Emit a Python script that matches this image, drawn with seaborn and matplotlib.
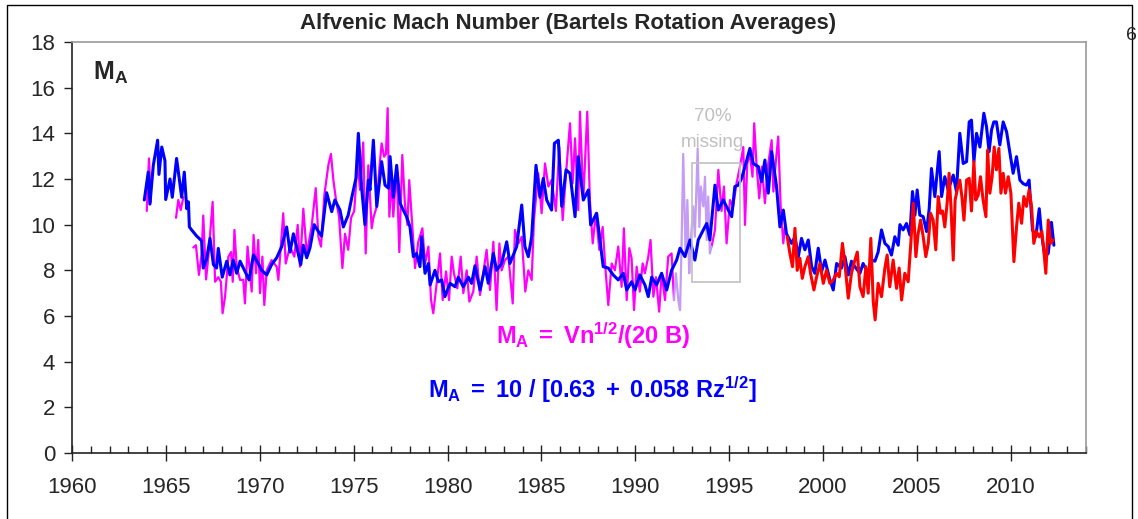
import numpy as np
import pandas as pd
import matplotlib
matplotlib.use("Agg")
import matplotlib.pyplot as plt
from matplotlib.patches import Rectangle
from matplotlib.ticker import MultipleLocator
import seaborn as sns

# ---------------- data ----------------
blue_years = [1963.85, 1964.06, 1964.15, 1964.33, 1964.56, 1964.63, 1964.78, 1964.95, 1964.99, 1965.22,
              1965.34, 1965.57, 1965.84, 1965.98, 1966.11, 1966.2, 1966.25, 1966.37, 1966.64, 1966.9,
              1966.99, 1967.17, 1967.35, 1967.53, 1967.7, 1967.79, 1968.0, 1968.24, 1968.41, 1968.59,
              1968.77, 1968.95, 1969.21, 1969.43, 1969.66, 1969.92, 1970.1, 1970.37, 1970.63, 1970.9,
              1971.17, 1971.43, 1971.61, 1971.79, 1971.96, 1972.18, 1972.32, 1972.5, 1972.67, 1972.9,
              1973.12, 1973.29, 1973.56, 1973.83, 1974.0, 1974.27, 1974.45, 1974.71, 1974.89, 1975.12,
              1975.25, 1975.42, 1975.6, 1975.78, 1975.87, 1976.05, 1976.23, 1976.49, 1976.67, 1976.85,
              1976.94, 1977.11, 1977.29, 1977.47, 1977.64, 1977.82, 1978.0, 1978.18, 1978.35, 1978.53,
              1978.62, 1978.8, 1978.98, 1979.07, 1979.33, 1979.51, 1979.69, 1979.86, 1980.13, 1980.4,
              1980.57, 1980.84, 1981.11, 1981.28, 1981.46, 1981.73, 1982.0, 1982.17, 1982.44, 1982.61,
              1982.88, 1983.15, 1983.32, 1983.68, 1983.95, 1984.12, 1984.3, 1984.48, 1984.6, 1984.71,
              1984.92, 1985.1, 1985.28, 1985.54, 1985.69, 1985.9, 1986.08, 1986.31, 1986.52, 1986.79,
              1986.96, 1987.23, 1987.5, 1987.62, 1987.94, 1988.12, 1988.29, 1988.56, 1988.82, 1989.09,
              1989.36, 1989.54, 1989.8, 1989.98, 1990.24, 1990.51, 1990.69, 1990.87, 1991.13, 1991.4,
              1991.67, 1991.93, 1992.2, 1992.38, 1992.64, 1992.91, 1993.17, 1993.35, 1993.62, 1993.8,
              1993.97, 1994.24, 1994.42, 1994.68, 1994.95, 1995.13, 1995.3, 1995.48, 1995.66, 1995.84,
              1996.1, 1996.28, 1996.55, 1996.72, 1996.9, 1997.08, 1997.26, 1997.52, 1997.7, 1997.88,
              1998.05, 1998.32, 1998.5, 1998.68, 1998.85, 1999.03, 1999.21, 1999.39, 1999.56, 1999.74,
              1999.92, 2000.1, 2000.36, 2000.54, 2000.72, 2000.98, 2001.16, 2001.34, 2001.51, 2001.69,
              2001.96, 2002.13, 2002.4, 2002.58, 2002.76, 2002.93, 2003.11, 2003.29, 2003.47, 2003.64,
              2003.82, 2004.0, 2004.09, 2004.26, 2004.44, 2004.62, 2004.76, 2004.89, 2005.01, 2005.15,
              2005.33, 2005.51, 2005.65, 2005.77, 2005.95, 2006.18, 2006.31, 2006.48, 2006.66, 2006.93,
              2007.1, 2007.28, 2007.46, 2007.64, 2007.78, 2007.9, 2008.03, 2008.17, 2008.35, 2008.56,
              2008.7, 2008.84, 2008.97, 2009.09, 2009.23, 2009.41, 2009.59, 2009.77, 2009.94, 2010.12,
              2010.3, 2010.48, 2010.65, 2010.83, 2010.97, 2011.15, 2011.33, 2011.51, 2011.63, 2011.81,
              2011.99, 2012.16, 2012.29]
blue_vals = [11.08, 12.3, 10.9, 12.6, 13.7, 12.2, 13.4, 12.8, 11.1, 12.0,
             11.2, 12.9, 11.2, 12.3, 10.7, 11.0, 9.9, 9.77, 9.5, 9.3,
             8.1, 8.5, 9.4, 8.25, 8.1, 8.96, 7.7, 8.4, 7.8, 8.45,
             7.87, 8.4, 7.95, 7.58, 8.67, 8.3, 8.0, 7.8, 8.25, 8.55,
             9.04, 9.9, 8.8, 9.6, 9.04, 8.25, 9.1, 8.55, 8.97, 10.0,
             9.7, 9.5, 11.4, 10.57, 11.08, 10.64, 9.9, 10.42, 11.15, 12.03,
             14.0, 11.67, 10.0, 11.95, 11.52, 13.7, 10.8, 12.76, 11.73, 11.6,
             12.98, 11.2, 12.6, 10.94, 10.64, 10.35, 9.9, 8.6, 8.74, 8.16,
             9.47, 7.87, 8.3, 7.36, 8.0, 7.5, 7.58, 6.85, 7.43, 7.28,
             7.7, 7.28, 7.7, 7.43, 8.2, 7.14, 8.16, 7.43, 8.74, 8.0,
             8.3, 9.25, 8.3, 9.04, 10.86, 9.04, 8.6, 9.47, 11.08, 12.6,
             11.2, 12.03, 11.08, 10.64, 13.56, 13.7, 10.8, 12.4, 12.25, 10.35,
             12.98, 11.08, 11.52, 9.99, 10.5, 9.3, 8.16, 8.1, 7.8, 7.58,
             7.87, 7.14, 7.5, 7.14, 7.8, 7.36, 6.85, 7.7, 7.36, 7.87,
             7.14, 8.0, 8.45, 8.97, 8.6, 9.33, 8.45, 9.33, 9.77, 10.05,
             9.33, 11.73, 10.64, 11.08, 10.64, 10.35, 11.67, 11.73, 12.03, 12.54,
             13.34, 12.68, 12.54, 11.88, 12.83, 11.38, 13.2, 11.67, 9.9, 10.64,
             9.6, 9.18, 9.47, 8.6, 9.4, 8.9, 9.33, 8.16, 7.87, 8.97,
             7.95, 8.45, 7.58, 7.14, 8.3, 8.1, 8.6, 7.8, 8.4, 8.16,
             7.87, 8.3, 7.87, 8.45, 8.4, 8.8, 9.77, 9.18, 9.04, 8.67,
             9.47, 9.1, 10.0, 9.77, 10.05, 9.55, 11.45, 10.42, 11.52, 10.42,
             10.35, 9.7, 10.7, 12.46, 11.23, 13.2, 11.23, 12.1, 11.52, 12.17,
             11.45, 14.0, 12.68, 12.76, 14.5, 14.58, 12.76, 14.0, 13.4, 14.88,
             14.3, 13.2, 14.15, 14.5, 14.5, 13.49, 14.5, 14.07, 13.2, 12.25,
             12.98, 11.95, 11.8, 11.73, 11.95, 9.77, 9.47, 10.7, 9.6, 8.6,
             8.74, 10.1, 9.1]

# magenta (Vn^1/2 / 20B) -- data segments separated by gaps
mag_seg1_years = [1963.98, 1964.1, 1964.2]
mag_seg1_vals = [10.6, 12.9, 11.0]
mag_seg2_years = [1965.54, 1965.66, 1965.79, 1965.93]
mag_seg2_vals = [10.3, 11.08, 10.64, 11.2]
mag_seg3_years = [1966.46, 1966.6, 1966.76, 1966.9, 1966.99, 1967.14, 1967.26, 1967.49, 1967.62, 1967.79,
                  1967.93, 1968.02, 1968.15, 1968.33, 1968.47, 1968.56, 1968.65, 1968.77, 1968.95, 1969.12,
                  1969.21, 1969.35, 1969.57, 1969.67, 1969.8, 1969.92, 1970.01, 1970.14, 1970.24, 1970.37,
                  1970.63, 1970.9, 1970.99, 1971.25, 1971.38, 1971.61, 1971.84, 1972.02, 1972.14, 1972.32,
                  1972.5, 1972.76, 1972.98, 1973.12, 1973.26, 1973.44, 1973.65, 1973.79, 1973.92, 1974.06,
                  1974.22, 1974.4, 1974.54, 1974.71, 1974.86, 1975.03, 1975.21, 1975.34, 1975.51, 1975.64,
                  1975.78, 1975.96, 1976.05, 1976.23, 1976.37, 1976.49, 1976.62, 1976.72, 1976.81, 1976.9,
                  1977.02, 1977.11, 1977.29, 1977.43, 1977.59, 1977.73, 1977.86, 1977.96, 1978.09, 1978.27,
                  1978.44, 1978.66, 1978.8, 1978.98, 1979.12, 1979.24, 1979.37, 1979.6, 1979.74, 1979.92,
                  1980.08, 1980.22, 1980.34, 1980.52, 1980.7, 1980.84, 1981.02, 1981.16, 1981.37, 1981.55,
                  1981.73, 1981.9, 1982.08, 1982.26, 1982.44, 1982.61, 1982.76, 1982.88, 1983.06, 1983.24,
                  1983.47, 1983.59, 1983.77, 1983.95, 1984.14, 1984.3, 1984.48, 1984.6, 1984.83, 1985.01,
                  1985.19, 1985.37, 1985.54, 1985.77, 1985.95, 1986.13, 1986.31, 1986.52, 1986.66, 1986.79,
                  1986.96, 1987.05, 1987.23, 1987.44, 1987.58, 1987.73, 1987.9, 1988.08, 1988.26, 1988.4,
                  1988.56, 1988.74, 1988.91, 1989.09, 1989.27, 1989.39, 1989.54, 1989.68, 1989.8, 1989.93,
                  1990.07, 1990.24, 1990.39, 1990.51, 1990.69, 1990.81, 1990.96, 1991.1, 1991.27, 1991.4,
                  1991.58, 1991.75, 1991.93, 1992.06]
mag_seg3_vals = [9.0, 9.1, 7.8, 8.7, 10.4, 7.6, 8.6, 11.0, 7.5, 7.7,
                 7.5, 6.12, 6.85, 8.6, 8.8, 7.5, 9.77, 8.16, 7.58, 7.58,
                 6.55, 9.04, 7.07, 9.55, 7.87, 9.33, 7.0, 8.6, 6.48, 8.0,
                 8.45, 8.16, 7.58, 10.5, 8.3, 9.04, 8.6, 9.99, 8.16, 10.7,
                 8.74, 9.9, 11.6, 9.47, 9.04, 11.3, 12.6, 13.1, 11.95, 11.08,
                 10.35, 8.1, 9.6, 8.9, 10.3, 10.6, 12.8, 11.52, 13.6, 8.74,
                 12.6, 9.84, 10.3, 10.8, 12.5, 13.56, 12.98, 13.1, 15.1, 10.35,
                 12.1, 10.35, 12.5, 8.8, 13.05, 10.9, 9.99, 11.95, 10.35, 8.1,
                 9.25, 9.84, 8.3, 9.04, 6.7, 6.12, 7.07, 8.74, 6.7, 7.95,
                 6.7, 8.6, 7.87, 7.21, 8.6, 7.0, 8.0, 6.63, 7.07, 8.6,
                 6.92, 7.87, 8.9, 7.14, 9.25, 6.26, 9.18, 8.0, 8.45, 8.6,
                 6.55, 9.77, 9.18, 9.47, 7.07, 8.0, 7.58, 10.2, 12.25, 10.5,
                 12.68, 11.67, 11.95, 10.6, 13.4, 10.2, 12.25, 14.44, 11.81, 13.78,
                 10.64, 14.95, 11.08, 14.95, 11.08, 9.18, 10.5, 8.9, 9.9, 8.16,
                 6.48, 8.3, 8.0, 9.04, 7.28, 9.84, 6.7, 8.97, 8.53, 6.26,
                 8.16, 7.07, 8.3, 7.87, 8.6, 9.33, 6.85, 7.7, 6.19, 7.87,
                 6.7, 8.6, 8.74, 6.7]
mag_seg4_years = [1994.06, 1994.24, 1994.42, 1994.59, 1994.72, 1994.86, 1995.04, 1995.21, 1995.39, 1995.57,
                  1995.75, 1995.84, 1995.96, 1996.1, 1996.24, 1996.33, 1996.46, 1996.6, 1996.74, 1996.9,
                  1997.08, 1997.26, 1997.35, 1997.49, 1997.61, 1997.74, 1997.88, 1997.97]
mag_seg4_vals = [9.04, 9.77, 12.4, 10.6, 11.67, 9.18, 11.08, 10.8, 11.81, 12.54,
                 13.4, 9.99, 12.68, 13.1, 12.1, 14.44, 12.54, 11.15, 12.54, 10.94,
                 12.68, 13.7, 11.45, 12.83, 13.86, 10.8, 9.18, 9.9]

# light purple: period with 70% missing data
lav_years = [1992.06, 1992.16, 1992.29, 1992.38, 1992.46, 1992.55, 1992.68, 1992.77, 1992.87, 1992.94,
             1993.08, 1993.17, 1993.32, 1993.41, 1993.49, 1993.62, 1993.71, 1993.8, 1993.88, 1993.97,
             1994.06]
lav_vals = [6.7, 7.87, 6.7, 6.26, 9.04, 13.1, 8.6, 11.08, 7.87, 9.18,
            10.8, 9.47, 13.34, 9.9, 11.67, 10.8, 12.1, 9.33, 11.23, 8.74,
            9.04]

# red (recent Vn^1/2 / 20B)
red_years = [1998.09, 1998.23, 1998.37, 1998.5, 1998.62, 1998.76, 1998.89, 1999.03, 1999.21, 1999.33,
             1999.51, 1999.65, 1999.83, 2000.01, 2000.18, 2000.36, 2000.54, 2000.72, 2000.86, 2001.03,
             2001.16, 2001.34, 2001.51, 2001.64, 2001.82, 2001.96, 2002.13, 2002.28, 2002.4, 2002.54,
             2002.67, 2002.77, 2002.93, 2003.11, 2003.29, 2003.41, 2003.55, 2003.73, 2003.91, 2004.05,
             2004.18, 2004.35, 2004.53, 2004.67, 2004.8, 2004.94, 2005.06, 2005.19, 2005.33, 2005.47,
             2005.6, 2005.72, 2005.86, 2006.0, 2006.13, 2006.25, 2006.36, 2006.48, 2006.61, 2006.71,
             2006.82, 2006.93, 2007.03, 2007.16, 2007.28, 2007.39, 2007.5, 2007.64, 2007.78, 2007.9,
             2008.03, 2008.13, 2008.26, 2008.38, 2008.52, 2008.67, 2008.76, 2008.88, 2009.0, 2009.11,
             2009.23, 2009.36, 2009.47, 2009.59, 2009.71, 2009.86, 2010.0, 2010.16, 2010.3, 2010.42,
             2010.57, 2010.69, 2010.83, 2010.97, 2011.1, 2011.22, 2011.36, 2011.51, 2011.65, 2011.75,
             2011.86, 2011.99, 2012.11, 2012.25]
red_vals = [9.47, 8.74, 8.16, 9.84, 8.0, 8.53, 7.65, 8.16, 8.6, 7.87,
            7.14, 7.7, 8.3, 7.43, 8.0, 7.43, 7.58, 7.87, 7.72, 9.18,
            8.3, 6.78, 7.87, 8.3, 8.8, 7.28, 6.85, 8.16, 7.0, 9.4,
            6.63, 5.83, 7.43, 6.85, 8.1, 8.67, 7.28, 8.45, 7.21, 8.1,
            6.7, 7.87, 7.5, 9.18, 10.94, 8.6, 9.6, 10.2, 9.47, 8.6,
            9.18, 10.5, 10.2, 8.9, 11.23, 10.5, 10.6, 9.9, 11.0, 12.25,
            10.6, 8.45, 11.08, 11.6, 11.95, 11.23, 10.2, 11.95, 12.03, 10.6,
            12.76, 11.08, 11.3, 12.1, 11.08, 10.35, 13.27, 11.38, 12.1, 13.4,
            12.4, 13.34, 11.38, 12.25, 11.38, 12.1, 11.38, 8.38, 9.9, 10.94,
            10.06, 11.23, 10.8, 11.52, 10.8, 9.18, 9.7, 9.47, 9.7, 8.9,
            7.87, 10.2, 9.18, 9.33]

x_ticks = [1960, 1965, 1970, 1975, 1980, 1985, 1990, 1995, 2000, 2005, 2010]
y_ticks = [0, 2, 4, 6, 8, 10, 12, 14, 16, 18]

title = "Alfvenic Mach Number (Bartels Rotation Averages)"
formula_mag = r"$\mathbf{M_A\ =\ Vn^{1/2}/(20\ B)}$"
formula_blue = r"$\mathbf{M_A\ =\ 10\ /\ [0.63\ +\ 0.058\ Rz^{1/2}]}$"

# ---------------- build frames ----------------
mag_df = pd.concat([
    pd.DataFrame({"year": y, "ma": v, "seg": i})
    for i, (y, v) in enumerate([(mag_seg1_years, mag_seg1_vals), (mag_seg2_years, mag_seg2_vals),
                                (mag_seg3_years, mag_seg3_vals), (mag_seg4_years, mag_seg4_vals)])
], ignore_index=True)
blue_df = pd.DataFrame({"year": blue_years, "ma": blue_vals})
lav_df = pd.DataFrame({"year": lav_years, "ma": lav_vals})
red_df = pd.DataFrame({"year": red_years, "ma": red_vals})

# ---------------- style ----------------
sns.set_style("white")
plt.rcParams["font.family"] = ["Liberation Sans", "DejaVu Sans"]
plt.rcParams["mathtext.fontset"] = "custom"
plt.rcParams["mathtext.rm"] = "Liberation Sans"
plt.rcParams["mathtext.it"] = "Liberation Sans:italic"
plt.rcParams["mathtext.bf"] = "Liberation Sans:bold"

W, H = 1138, 519
fig = plt.figure(figsize=(W / 100, H / 100), dpi=100)
fig.patch.set_facecolor("white")
ax = fig.add_axes([72 / W, 1 - 453 / H, (1086 - 72) / W, (453 - 42) / H])

sns.lineplot(data=mag_df, x="year", y="ma", units="seg", estimator=None, sort=False,
             color="#ff00ff", linewidth=1.6, ax=ax, zorder=2)
sns.lineplot(data=lav_df, x="year", y="ma", estimator=None, sort=False,
             color="#c49cf4", linewidth=1.6, ax=ax, zorder=3)
sns.lineplot(data=blue_df, x="year", y="ma", estimator=None, sort=False,
             color="#0000ff", linewidth=2.2, ax=ax, zorder=4)
sns.lineplot(data=red_df, x="year", y="ma", estimator=None, sort=False,
             color="#ff0000", linewidth=2.2, ax=ax, zorder=5)

ax.set_xlim(1960, 2014)
ax.set_ylim(0, 18)
ax.set_xticks(x_ticks)
ax.set_xticklabels([str(t) for t in x_ticks])
ax.set_yticks(y_ticks)
ax.set_yticklabels([str(t) for t in y_ticks])
ax.xaxis.set_minor_locator(MultipleLocator(1))
ax.set_xlabel("")
ax.set_ylabel("")

for s in ["left", "bottom"]:
    ax.spines[s].set_color("#222222")
    ax.spines[s].set_linewidth(1.2)
for s in ["top", "right"]:
    ax.spines[s].set_color("#9a9a9a")
    ax.spines[s].set_linewidth(1.2)

ax.tick_params(axis="x", which="major", direction="inout", length=11, width=1.0,
               color="#222222", labelsize=16, pad=12, bottom=True)
ax.tick_params(axis="x", which="minor", direction="in", length=5, width=1.0,
               color="#222222", bottom=True)
ax.tick_params(axis="y", which="major", direction="out", length=6, width=1.0,
               color="#222222", labelsize=16, pad=6, left=True)

# gray box marking data gap
ax.add_patch(Rectangle((1993.0, 7.5), 2.57, 5.2, fill=False, edgecolor="#c0c0c0",
                       linewidth=1.2, zorder=6))
ax.text(1994.13, 14.72, "70%", color="#c0c0c0", fontsize=13.5, ha="center", va="center")
ax.text(1994.13, 13.58, "missing", color="#c0c0c0", fontsize=13.5, ha="center", va="center")

# texts
fig.text(568 / W, 1 - 23 / H, title, ha="center", va="center", fontsize=16, fontweight="bold")
fig.text(93 / W, 1 - 80 / H, r"$\mathbf{M_A}$", ha="left", va="baseline", fontsize=18)
fig.text(593 / W, 1 - 344 / H, formula_mag, color="#ff00ff", ha="center", va="baseline", fontsize=17)
fig.text(592 / W, 1 - 398 / H, formula_blue, color="#0000ff", ha="center", va="baseline", fontsize=17)
fig.text(1137 / W, 1 - 36 / H, "6", ha="right", va="center", fontsize=14)

# outer frame
fig.patches.append(Rectangle((7 / W, -0.05), (1132 - 7) / W, 1 - 5 / H + 0.05,
                             transform=fig.transFigure, fill=False, edgecolor="black",
                             linewidth=1.0, zorder=0))

fig.savefig("out.png", dpi=100, facecolor="white")
